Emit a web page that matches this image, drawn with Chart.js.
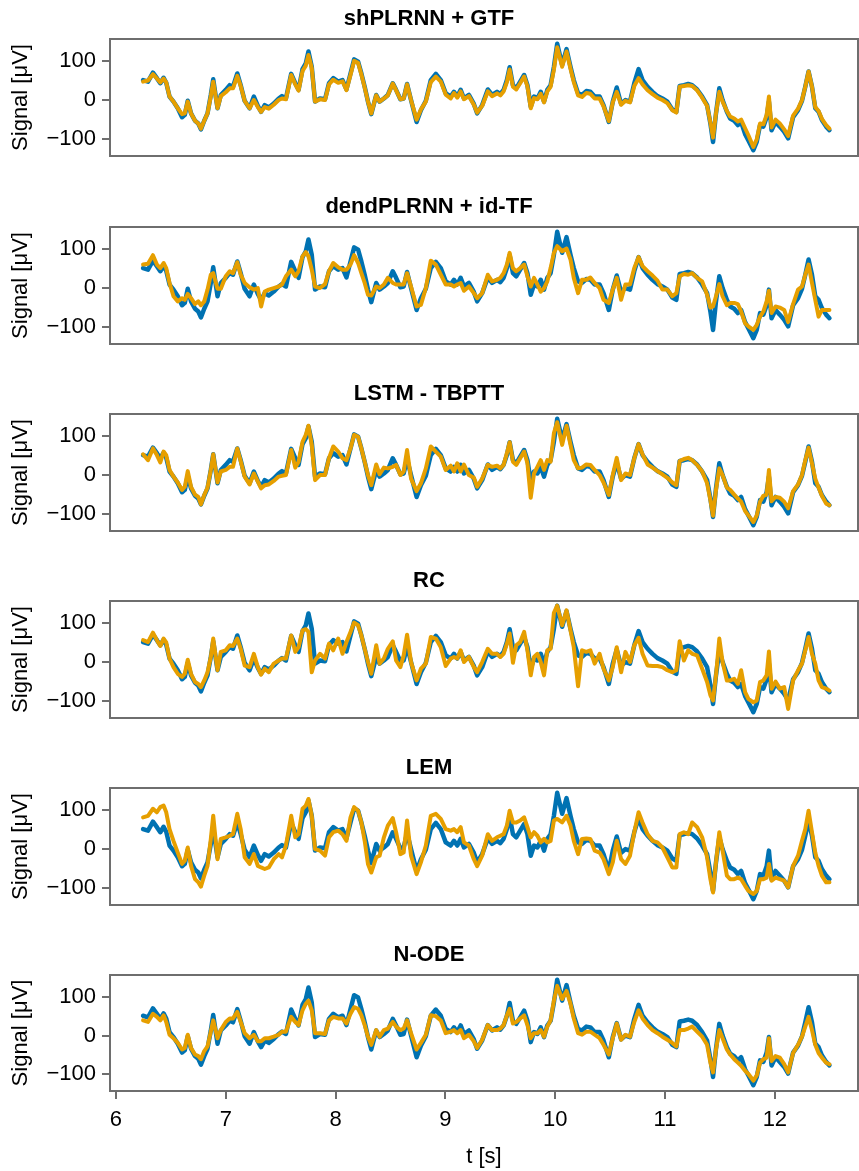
<!DOCTYPE html>
<html>
<head>
<meta charset="utf-8">
<script src="https://cdn.jsdelivr.net/npm/chart.js@4.4.1/dist/chart.umd.min.js"></script>
<style>
  html, body { margin: 0; padding: 0; background: #fff; }
  #wrap { position: relative; width: 859px; height: 1171px; overflow: hidden; }
  #wrap canvas { position: absolute; left: 0; }
</style>
</head>
<body>
<div id="wrap"></div>
<script>
// time axis (s), shared by every series
const timeS = [
  6.247, 6.292, 6.337, 6.373, 6.404, 6.434, 6.458, 6.488, 6.524, 6.563,
  6.602, 6.627, 6.654, 6.684, 6.720, 6.750, 6.774, 6.804, 6.834, 6.864,
  6.886, 6.925, 6.955, 7.000, 7.036, 7.066, 7.105, 7.136, 7.172, 7.217,
  7.256, 7.292, 7.322, 7.355, 7.392, 7.437, 7.482, 7.512, 7.548, 7.596,
  7.633, 7.663, 7.699, 7.729, 7.753, 7.783, 7.813, 7.858, 7.904, 7.940,
  7.979, 8.024, 8.063, 8.099, 8.136, 8.169, 8.205, 8.235, 8.265, 8.295,
  8.325, 8.370, 8.401, 8.440, 8.476, 8.521, 8.551, 8.590, 8.620, 8.651,
  8.687, 8.738, 8.777, 8.822, 8.867, 8.913, 8.958, 9.003, 9.048, 9.078,
  9.108, 9.139, 9.169, 9.214, 9.259, 9.289, 9.335, 9.386, 9.425, 9.470,
  9.500, 9.530, 9.560, 9.585, 9.615, 9.645, 9.681, 9.717, 9.747, 9.777,
  9.807, 9.838, 9.868, 9.898, 9.928, 9.958, 9.988, 10.018, 10.063, 10.103,
  10.139, 10.169, 10.208, 10.244, 10.283, 10.320, 10.359, 10.404, 10.440, 10.488,
  10.524, 10.560, 10.600, 10.639, 10.681, 10.720, 10.759, 10.795, 10.841, 10.886,
  10.931, 10.976, 11.021, 11.066, 11.103, 11.133, 11.172, 11.211, 11.247, 11.292,
  11.338, 11.383, 11.413, 11.437, 11.464, 11.494, 11.524, 11.563, 11.593, 11.630,
  11.663, 11.693, 11.729, 11.759, 11.804, 11.835, 11.865, 11.895, 11.925, 11.946,
  11.970, 12.006, 12.045, 12.085, 12.121, 12.166, 12.211, 12.247, 12.277, 12.307,
  12.338, 12.368, 12.398, 12.428, 12.467, 12.497
];

// measured EEG (blue), same in every panel
const measuredEEG = [
  51, 47, 70, 56, 43, 57, 44, 9, -4, -21,
  -44, -38, -2, -34, -53, -60, -75, -53, -34, 13,
  53, -21, 13, 26, 38, 34, 68, 38, -2, -21,
  9, -15, -30, -13, -19, -9, 4, 10, 4, 67,
  43, 26, 79, 94, 124, 85, -4, 4, 2, 43,
  56, 47, 51, 27, 68, 104, 98, 68, 34, -4,
  -36, 13, -4, 4, 13, 43, 26, 2, 4, 41,
  0, -56, -26, -2, 51, 67, 51, 17, 9, 21,
  9, 26, 4, 13, -10, -34, -13, 27, 13, 21,
  15, 26, 51, 84, 38, 30, 47, 64, 38, -17,
  9, 4, 21, -4, 26, 38, 85, 144, 90, 130,
  85, 51, 17, 13, 23, 21, 9, 9, -13, -56,
  -4, 32, -10, 0, -4, 43, 79, 51, 34, 21,
  10, 4, -4, -24, -30, 36, 38, 41, 38, 27,
  9, -13, -60, -107, -34, 30, 0, -30, -47, -53,
  -64, -56, -87, -103, -128, -107, -64, -68, -44, -4,
  -77, -56, -68, -81, -98, -44, -26, -2, 34, 73,
  34, -21, -30, -51, -68, -77
];

// model generated signals (orange)
const shPLRNN_GTF = [
  47, 50, 66, 55, 45, 55, 45, 9, -4, -21,
  -36, -34, -4, -34, -53, -60, -73, -53, -34, 10,
  47, -21, 10, 20, 30, 30, 62, 36, -2, -21,
  0, -18, -30, -18, -22, -12, 0, 4, 2, 64,
  40, 24, 74, 88, 115, 82, -4, 2, 0, 40,
  52, 44, 48, 25, 64, 100, 95, 65, 32, -4,
  -34, 12, -4, 4, 12, 42, 25, 2, 4, 40,
  0, -50, -24, -4, 46, 60, 47, 14, 4, 18,
  6, 22, 2, 10, -12, -32, -15, 22, 10, 17,
  12, 22, 46, 78, 34, 27, 43, 60, 35, -21,
  5, 2, 16, -6, 22, 34, 78, 135, 85, 124,
  80, 46, 12, 8, 18, 16, 4, 4, -16, -54,
  -6, 21, -12, -2, -6, 36, 56, 40, 25, 15,
  6, 0, -8, -26, -32, 34, 36, 38, 36, 25,
  6, -15, -58, -96, -34, 21, -4, -28, -42, -47,
  -55, -50, -72, -90, -120, -100, -60, -62, -38, 9,
  -70, -50, -60, -75, -92, -40, -22, 0, 34, 73,
  34, -18, -28, -48, -64, -73
];
const dendPLRNN_idTF = [
  60, 62, 84, 60, 51, 64, 51, 13, -21, -34,
  -26, -30, -15, -26, -41, -34, -44, -34, -4, 34,
  38, -2, -2, 30, 43, 38, 66, 34, 13, 2,
  -4, 0, -47, -9, -4, 0, 4, 9, 30, 47,
  30, 43, 81, 92, 81, 47, 4, 0, 10, 43,
  64, 53, 47, 47, 60, 84, 64, 38, 13, -17,
  -19, 4, 0, 9, 26, 13, 9, 9, 9, 38,
  4, -47, -43, 0, 70, 60, 34, 9, 9, 4,
  9, 13, -7, 4, -13, -26, -13, 34, 17, 21,
  26, 38, 60, 90, 51, 43, 51, 60, 30, 4,
  26, 9, -9, 0, 17, 51, 90, 107, 94, 101,
  73, 26, -13, 21, 21, 27, 13, 0, -30, -38,
  -4, 26, -30, 9, 9, 51, 79, 56, 43, 32,
  19, -4, -4, -21, -13, 30, 36, 34, 38, 26,
  17, -17, -50, -47, -21, 10, -21, -44, -38, -38,
  -41, -60, -90, -98, -107, -94, -73, -60, -34, -7,
  -64, -47, -50, -56, -87, -41, -4, 4, 34, 60,
  13, -30, -73, -56, -56, -56
];
const LSTM_TBPTT = [
  53, 38, 68, 51, 32, 60, 51, 13, -4, -19,
  -38, -30, 10, -30, -50, -56, -75, -51, -32, 13,
  53, -19, 9, 13, 21, 21, 68, 36, -4, -24,
  4, -17, -34, -26, -24, -15, -4, -2, 0, 64,
  19, 34, 85, 103, 126, 77, -13, 0, 0, 43,
  73, 60, 43, 38, 68, 103, 98, 68, 34, 0,
  -26, 27, 2, 19, 17, 21, 26, 0, 9, 64,
  -9, -41, -21, 17, 73, 60, 47, 13, 24, 9,
  30, 9, 27, 0, -7, -30, -9, 26, 21, 24,
  17, 26, 56, 84, 34, 26, 43, 60, 30, -58,
  4, 21, 38, 13, 38, 34, 107, 135, 77, 126,
  77, 38, 17, 19, 27, 26, 13, 0, -19, -51,
  0, 44, -13, 4, 0, 43, 79, 53, 27, 19,
  10, 2, -7, -19, -26, 36, 41, 44, 38, 26,
  9, -21, -64, -104, -38, 17, 0, -32, -38, -50,
  -60, -68, -92, -103, -120, -103, -68, -53, -50, 13,
  -67, -56, -58, -68, -85, -41, -24, 0, 38, 70,
  30, -9, -32, -53, -73, -77
];
const RC = [
  56, 51, 75, 56, 41, 60, 50, 9, -13, -30,
  -38, -30, 6, -30, -51, -56, -64, -47, -26, 13,
  60, -21, 26, 30, 43, 41, 60, 34, -9, -13,
  21, -13, -32, -17, -26, -4, 4, 9, 9, 68,
  26, 38, 81, 84, 77, -26, 4, 21, 9, 47,
  30, 60, 21, 51, 77, 101, 94, 68, 34, 0,
  -30, 43, -4, 9, 34, 53, 4, -13, 17, 70,
  0, -47, -17, -4, 64, 60, 38, -10, 9, 13,
  9, 30, 0, 13, -13, -26, 0, 34, 21, 21,
  13, 21, 47, 73, -2, 43, 51, 77, 30, -34,
  13, 21, 0, -34, 30, 34, 126, 144, 94, 132,
  81, 38, -62, 30, 26, 30, -4, 21, -17, -47,
  -13, 38, -26, 26, 0, 43, 62, 21, -9, -10,
  -10, -13, -21, -26, -21, 53, 4, 30, 21, 17,
  -17, -51, -85, -98, -34, 60, 0, -47, -47, -43,
  -56, -21, -77, -94, -103, -98, -51, -47, -34, 27,
  -68, -50, -68, -64, -120, -47, -21, -4, 30, 64,
  21, -4, -47, -64, -68, -73
];
const LEM = [
  81, 85, 103, 94, 107, 111, 94, 51, 21, -9,
  -38, -30, 4, -43, -77, -85, -96, -68, -43, 26,
  85, -26, 26, 30, 34, 38, 90, 51, -21, -38,
  -13, -43, -47, -51, -47, -26, -13, -21, 9, 85,
  30, 38, 103, 111, 128, 85, 0, -4, -17, 30,
  43, 47, 38, 21, 81, 107, 98, 68, 21, -38,
  -60, -21, -17, 30, 60, 79, 43, -13, -9, 73,
  -17, -64, -34, 9, 85, 90, 77, 51, 47, 51,
  43, 56, 17, 9, -26, -44, -17, 38, 21, 30,
  34, 38, 60, 98, 68, 68, 73, 81, 56, 30,
  43, 34, 17, 26, 17, 21, 73, 77, 68, 85,
  60, 21, -13, 26, 27, 26, -4, -9, -26, -64,
  -34, 21, -26, -38, -17, 43, 94, 68, 38, 21,
  17, 4, -21, -47, -47, 38, 43, 38, 68, 56,
  30, -21, -77, -111, -34, 43, -4, -68, -77, -77,
  -73, -77, -94, -107, -115, -107, -77, -77, -73, -38,
  -81, -73, -77, -81, -98, -43, -17, 21, 51, 98,
  43, -9, -43, -68, -85, -85
];
const NODE = [
  39, 35, 56, 48, 39, 52, 35, 2, -7, -19,
  -36, -32, 2, -32, -49, -53, -61, -40, -28, 10,
  39, -7, 14, 35, 44, 44, 61, 35, 6, -7,
  2, -15, -15, -7, -7, -3, 2, 10, 10, 48,
  35, 27, 65, 82, 90, 65, 6, 6, 4, 39,
  48, 44, 44, 31, 56, 73, 69, 52, 27, -3,
  -24, 14, -3, 14, 18, 35, 23, 14, 18, 39,
  6, -36, -19, 2, 52, 50, 39, 6, 10, 14,
  6, 14, -7, 2, -15, -32, -11, 27, 14, 14,
  18, 27, 52, 69, 31, 35, 44, 52, 27, -7,
  6, 6, 14, -3, 23, 39, 90, 128, 94, 115,
  82, 44, 6, 2, 10, 10, 2, -7, -24, -49,
  -7, 31, -11, 2, -3, 35, 65, 44, 27, 14,
  6, -3, -11, -19, -28, 14, 14, 18, 23, 10,
  -3, -24, -70, -95, -36, 14, -7, -36, -49, -61,
  -70, -78, -91, -99, -116, -103, -70, -61, -57, -7,
  -66, -53, -57, -74, -95, -45, -24, -3, 23, 48,
  14, -24, -45, -57, -70, -74
];

const panelTitles = ['shPLRNN + GTF', 'dendPLRNN + id-TF', 'LSTM - TBPTT', 'RC', 'LEM', 'N-ODE'];
const modelSeries = [shPLRNN_GTF, dendPLRNN_idTF, LSTM_TBPTT, RC, LEM, NODE];
const yTicks = [-100, 0, 100];
const xTicks = [6, 7, 8, 9, 10, 11, 12];

const BLUE = '#0072B2';
const ORANGE = '#E69F00';
const FRAME = '#6e6e6e';
const FONT = "'Liberation Sans', Arial, Helvetica, sans-serif";

// draws the full box around the plot area
const framePlugin = {
  id: 'frame',
  afterDatasetsDraw(chart) {
    const { ctx, chartArea: a } = chart;
    ctx.save();
    ctx.strokeStyle = FRAME;
    ctx.lineWidth = 2;
    ctx.strokeRect(a.left, a.top, a.right - a.left, a.bottom - a.top);
    ctx.restore();
  }
};

const fmt = v => (v < 0 ? '\u2212' + Math.abs(v) : String(v));
const points = vals => timeS.map((t, i) => ({ x: t, y: vals[i] }));

const wrap = document.getElementById('wrap');
const canvasTops = [0, 188, 375, 562, 749, 936];

panelTitles.forEach((title, k) => {
  const last = k === panelTitles.length - 1;
  const canvas = document.createElement('canvas');
  canvas.width = 859;
  canvas.height = last ? 235 : 160;
  canvas.style.top = canvasTops[k] + 'px';
  wrap.appendChild(canvas);

  new Chart(canvas.getContext('2d'), {
    type: 'line',
    data: {
      datasets: [
        {
          data: points(modelSeries[k]),
          borderColor: ORANGE,
          borderWidth: 4,
          borderJoinStyle: 'round',
          borderCapStyle: 'round',
          pointRadius: 0,
          tension: 0,
          order: 0
        },
        {
          data: points(measuredEEG),
          borderColor: BLUE,
          borderWidth: 4.5,
          borderJoinStyle: 'round',
          borderCapStyle: 'round',
          pointRadius: 0,
          tension: 0,
          order: 1
        }
      ]
    },
    options: {
      responsive: false,
      animation: false,
      layout: { padding: { left: 0, right: 1, top: 0, bottom: last ? 0 : 4 } },
      plugins: {
        legend: { display: false },
        tooltip: { enabled: false },
        title: {
          display: true,
          text: title,
          color: '#000',
          font: { family: FONT, size: 22, weight: 'bold' },
          padding: { top: 6, bottom: 6.6 }
        }
      },
      scales: {
        x: {
          type: 'linear',
          min: 5.946,
          max: 12.757,
          display: last,
          afterBuildTicks: s => { s.ticks = xTicks.map(v => ({ value: v })); },
          afterFit: s => { s.height = last ? 80 : 0; },
          grid: { drawOnChartArea: false, drawTicks: true, tickLength: 8, color: FRAME, lineWidth: 2 },
          border: { display: false },
          ticks: { color: '#000', padding: 8, maxRotation: 0, font: { family: FONT, size: 22 } },
          title: {
            display: true,
            text: 't [s]',
            color: '#000',
            font: { family: FONT, size: 22 },
            padding: { top: 0, bottom: 1 }
          }
        },
        y: {
          min: -143,
          max: 156,
          afterBuildTicks: s => { s.ticks = yTicks.map(v => ({ value: v })); },
          afterFit: s => { s.width = 110; s.paddingTop = 0; s.paddingBottom = 0; },
          grid: { drawOnChartArea: false, drawTicks: true, tickLength: 8, color: FRAME, lineWidth: 2 },
          border: { display: false },
          ticks: { color: '#000', padding: 6, callback: v => fmt(v), font: { family: FONT, size: 22 } },
          title: {
            display: true,
            text: 'Signal [\u03BCV]',
            color: '#000',
            font: { family: FONT, size: 22 },
            padding: { top: 8, bottom: 0 }
          }
        }
      }
    },
    plugins: [framePlugin]
  });
});
</script>
</body>
</html>
